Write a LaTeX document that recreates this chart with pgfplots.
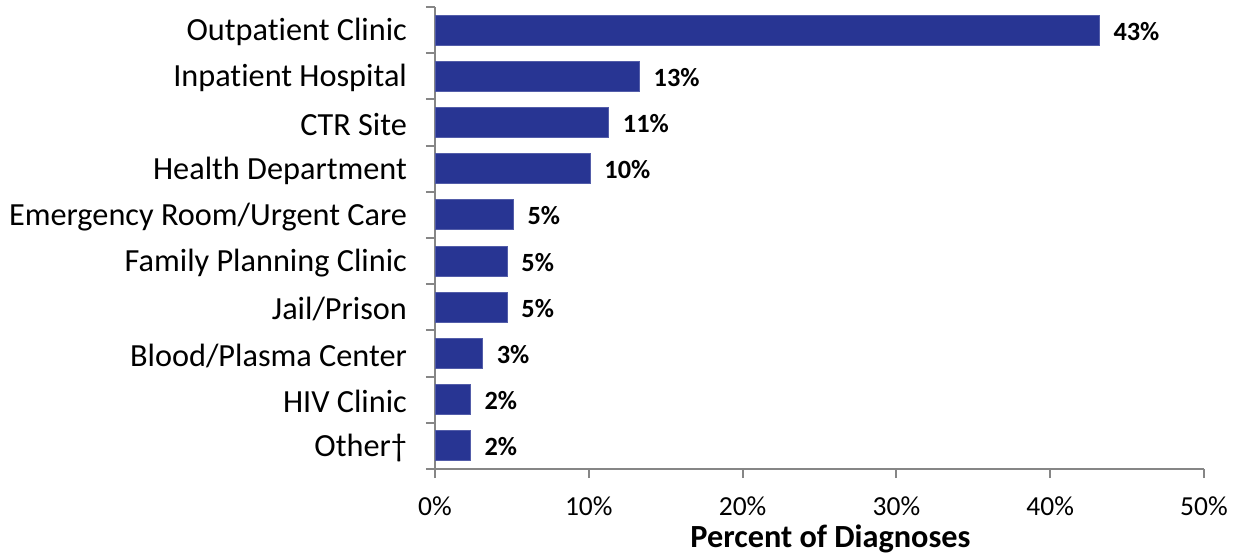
\documentclass[border=0pt]{standalone}
\usepackage{fontspec}
\setmainfont[Ligatures=NoCommon]{Carlito}
\usepackage{pgfplots}
\pgfplotsset{compat=1.18}
\usepackage{pgfplotstable}
\definecolor{barblue}{RGB}{40,53,147}
\definecolor{axgray}{RGB}{134,134,134}
\pgfplotstableread{
y x lab
0 2.3 2\%
1 2.3 2\%
2 3.1 3\%
3 4.7 5\%
4 4.7 5\%
5 5.1 5\%
6 10.1 10\%
7 11.3 11\%
8 13.3 13\%
9 43.2 43\%
}\datatab
\begin{document}
\begin{tikzpicture}
\useasboundingbox (0,0) rectangle (620bp,278bp);
\begin{axis}[
  at={(217.5bp,43.5bp)}, anchor=south west,
  scale only axis, width=384.5bp, height=231bp,
  xbar, bar width=0.65,
  xmin=0, xmax=50, ymin=-0.5, ymax=9.5,
  axis x line*=bottom, axis y line*=left,
  axis line style={axgray, line width=1bp},
  every tick/.style={axgray, line width=1bp},
  tick align=outside,
  xtick={0,10,...,50},
  xticklabel={\pgfmathprintnumber{\tick}\%},
  major tick length=4.5bp,
  ytick={0,...,9},
  yticklabels={Other\textdagger,HIV Clinic,Blood/Plasma Center,Jail/Prison,Family Planning Clinic,Emergency Room/Urgent Care,Health Department,CTR Site,Inpatient Hospital,Outpatient Clinic},
  major y tick style={draw=none},
  minor ytick={-0.5,0.5,...,9.5},
  minor tick length=4.5bp,
  minor y tick style={draw=axgray, line width=1bp},
  ticklabel style={text=black},
  yticklabel style={font=\fontsize{16.2}{19}\selectfont, xshift=-6bp, yshift=-1bp},
  xticklabel style={font=\fontsize{13.8}{16}\selectfont, yshift=-6bp},
  /pgf/number format/assume math mode=true,
  xlabel={\textbf{Percent of Diagnoses}},
  xlabel style={font=\fontsize{16.2}{19}\selectfont, xshift=5.5bp, yshift=2.5bp},
  nodes near coords,
  point meta=explicit symbolic,
  every node near coord/.append style={font=\fontsize{13.2}{15}\selectfont\bfseries, text=black, anchor=west, xshift=3.5bp, yshift=-0.5bp},
]
\addplot[fill=barblue, draw=barblue!80!white, line width=0.5bp] table[x=x, y=y, meta=lab] {\datatab};
\end{axis}
\end{tikzpicture}
\end{document}
